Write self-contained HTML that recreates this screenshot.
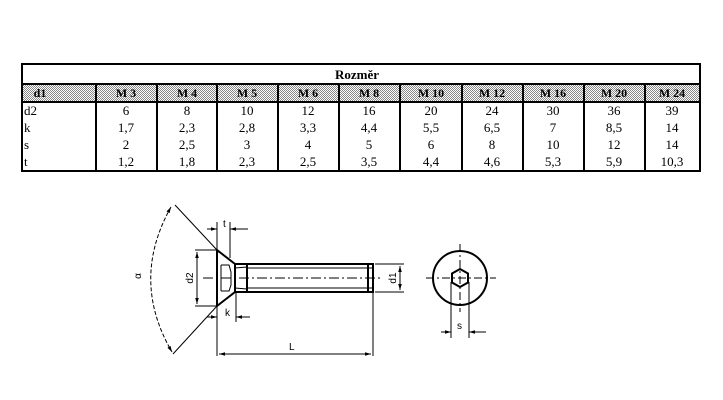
<!DOCTYPE html>
<html><head><meta charset="utf-8"><style>
body{margin:0;background:#fff;width:723px;height:400px;overflow:hidden;position:relative}
svg{position:absolute;left:0;top:0}
</style></head><body>
<svg width="723" height="400" viewBox="0 0 723 400" font-family="Liberation Serif, serif">
<defs>
<pattern id="dots" width="2" height="2" patternUnits="userSpaceOnUse">
<rect width="2" height="2" fill="#fff"/><rect width="1" height="1" fill="#888"/><rect x="1" y="1" width="1" height="1" fill="#888"/>
</pattern>
<marker id="a" viewBox="0 0 10 10" refX="10" refY="5" markerWidth="6" markerHeight="6" orient="auto-start-reverse"><path d="M0,2 L10,5 L0,8 z" fill="#000"/></marker>
</defs>
<rect x="22" y="84" width="678" height="18" fill="url(#dots)"/>
<rect x="22" y="64" width="678" height="107" fill="none" stroke="#000" stroke-width="2"/>
<line x1="22" y1="84" x2="700" y2="84" stroke="#000" stroke-width="2"/>
<line x1="22" y1="102" x2="700" y2="102" stroke="#000" stroke-width="2"/>
<g stroke="#000" stroke-width="2">
<line x1="96" y1="84" x2="96" y2="171"/><line x1="157" y1="84" x2="157" y2="171"/><line x1="217" y1="84" x2="217" y2="171"/><line x1="278" y1="84" x2="278" y2="171"/><line x1="339" y1="84" x2="339" y2="171"/><line x1="400" y1="84" x2="400" y2="171"/><line x1="462" y1="84" x2="462" y2="171"/><line x1="523" y1="84" x2="523" y2="171"/><line x1="584" y1="84" x2="584" y2="171"/><line x1="645" y1="84" x2="645" y2="171"/>
</g>
<text x="357" y="79" font-size="13" font-weight="bold" text-anchor="middle">Rozměr</text>
<g font-size="12" font-weight="bold" text-anchor="middle">
<text x="40" y="97">d1</text><text x="126" y="97">M 3</text><text x="187" y="97">M 4</text><text x="247" y="97">M 5</text><text x="308" y="97">M 6</text><text x="369" y="97">M 8</text><text x="431" y="97">M 10</text><text x="492" y="97">M 12</text><text x="553" y="97">M 16</text><text x="614" y="97">M 20</text><text x="672" y="97">M 24</text>
</g>
<g font-size="13">
<text x="24" y="115">d2</text><text x="24" y="132">k</text><text x="24" y="149">s</text><text x="24" y="166">t</text>
</g>
<g font-size="13" text-anchor="middle">
<text x="126" y="115">6</text><text x="187" y="115">8</text><text x="247" y="115">10</text><text x="308" y="115">12</text><text x="369" y="115">16</text><text x="431" y="115">20</text><text x="492" y="115">24</text><text x="553" y="115">30</text><text x="614" y="115">36</text><text x="672" y="115">39</text>
<text x="126" y="132">1,7</text><text x="187" y="132">2,3</text><text x="247" y="132">2,8</text><text x="308" y="132">3,3</text><text x="369" y="132">4,4</text><text x="431" y="132">5,5</text><text x="492" y="132">6,5</text><text x="553" y="132">7</text><text x="614" y="132">8,5</text><text x="672" y="132">14</text>
<text x="126" y="149">2</text><text x="187" y="149">2,5</text><text x="247" y="149">3</text><text x="308" y="149">4</text><text x="369" y="149">5</text><text x="431" y="149">6</text><text x="492" y="149">8</text><text x="553" y="149">10</text><text x="614" y="149">12</text><text x="672" y="149">14</text>
<text x="126" y="166">1,2</text><text x="187" y="166">1,8</text><text x="247" y="166">2,3</text><text x="308" y="166">2,5</text><text x="369" y="166">3,5</text><text x="431" y="166">4,4</text><text x="492" y="166">4,6</text><text x="553" y="166">5,3</text><text x="614" y="166">5,9</text><text x="672" y="166">10,3</text>
</g>
<g stroke="#000" fill="none" stroke-width="2">
<path d="M217,250 L217,306 M217,250 L235,264 L235,292 L217,306 M235,264 L373,264 L373,292 L235,292"/>
<path d="M247,264 L247,292 M368,264 L368,292"/>
</g>
<g stroke="#000" fill="none" stroke-width="1">
<path d="M247,268 L373,268 M247,288 L373,288 M235,268 L247,267 M235,288 L247,289"/>
<path d="M221,265 L229,265 L231,272 L231,285 L229,291 L221,291 M221,265 L221,291"/>
<path d="M203,278 L380,278" stroke-dasharray="10,3,2,3"/>
<path d="M217,250 L217,222 M230,258 L230,222"/>
<path d="M207,229 L217,229" marker-end="url(#a)"/><path d="M240,229 L230,229" marker-end="url(#a)"/><path d="M230,229 L248,229"/>
<path d="M195,250 L217,250 M195,306 L217,306"/>
<path d="M197,252 L197,304" marker-start="url(#a)" marker-end="url(#a)"/>
<path d="M236,292 L236,322 M217,306 L217,356"/>
<path d="M207,317 L217,317" marker-end="url(#a)"/><path d="M246,317 L236,317" marker-end="url(#a)"/><path d="M236,317 L250,317"/>
<path d="M373,292 L373,356"/>
<path d="M219,354 L371,354" marker-start="url(#a)" marker-end="url(#a)"/>
<path d="M375,264 L404,264 M375,292 L404,292"/>
<path d="M400,266 L400,290" marker-start="url(#a)" marker-end="url(#a)"/>
<path d="M175,205 L217,250 M217,306 L173,354"/>
<path d="M171,207 Q130,280 172,352" stroke-dasharray="4,2" marker-start="url(#a)" marker-end="url(#a)"/>
<circle cx="460" cy="278" r="27" stroke-width="2"/>
<path d="M460,269 L468,273.5 L468,282.5 L460,287 L452,282.5 L452,273.5 Z" stroke-width="2"/>
<path d="M426,278 L496,278 M460,244 L460,312" stroke-dasharray="8,3,2,3"/>
<path d="M451,282 L451,338 M469,282 L469,338"/>
<path d="M441,332 L451,332" marker-end="url(#a)"/><path d="M479,332 L469,332" marker-end="url(#a)"/><path d="M469,332 L486,332"/>
</g>
<g font-family="Liberation Sans, sans-serif" font-size="10">
<text x="223" y="227">t</text>
<text x="225" y="316">k</text>
<text x="289" y="350">L</text>
<text x="457" y="329">s</text>
<text transform="translate(193,278) rotate(-90)" text-anchor="middle">d2</text>
<text transform="translate(396,278) rotate(-90)" text-anchor="middle">d1</text>
<text transform="translate(141,276) rotate(-90)" text-anchor="middle">α</text>
</g>
</svg>
</body></html>
